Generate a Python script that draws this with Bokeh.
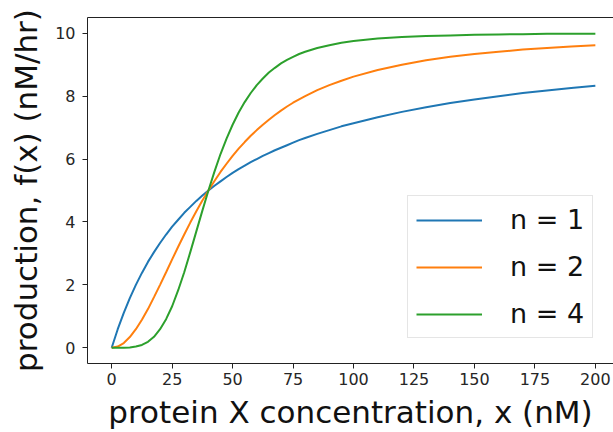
from bokeh.plotting import figure
from bokeh.models import Range1d, FixedTicker, LinearAxis, Legend, LegendItem
from bokeh.embed import file_html
from bokeh.resources import INLINE

# protein X concentration (nM)
x_vals = [0, 2.5, 5, 7.5, 10, 12.5, 15, 17.5, 20, 22.5, 25, 27.5, 30, 32.5, 35, 37.5, 40,
          42.5, 45, 47.5, 50, 52.5, 55, 57.5, 60, 62.5, 65, 67.5, 70, 72.5, 75, 77.5, 80,
          85, 90, 95, 100, 110, 120, 130, 140, 150, 160, 170, 180, 190, 200]
# production f(x) (nM/hr)
f_n1 = [0.0, 0.59, 1.11, 1.58, 2.0, 2.38, 2.73, 3.04, 3.33, 3.6, 3.85, 4.07, 4.29, 4.48, 4.67,
        4.84, 5.0, 5.15, 5.29, 5.43, 5.56, 5.68, 5.79, 5.9, 6.0, 6.1, 6.19, 6.28, 6.36, 6.44,
        6.52, 6.6, 6.67, 6.8, 6.92, 7.04, 7.14, 7.33, 7.5, 7.65, 7.78, 7.89, 8.0, 8.1, 8.18,
        8.26, 8.33]
f_n2 = [0.0, 0.04, 0.15, 0.34, 0.59, 0.89, 1.23, 1.61, 2.0, 2.4, 2.81, 3.21, 3.6, 3.98, 4.34,
        4.68, 5.0, 5.3, 5.59, 5.85, 6.1, 6.33, 6.54, 6.74, 6.92, 7.09, 7.25, 7.4, 7.54, 7.67,
        7.79, 7.9, 8.0, 8.19, 8.35, 8.49, 8.62, 8.83, 9.0, 9.14, 9.25, 9.34, 9.41, 9.48, 9.53,
        9.58, 9.62]
f_n4 = [0.0, 0.0, 0.0, 0.01, 0.04, 0.09, 0.19, 0.35, 0.59, 0.91, 1.32, 1.83, 2.4, 3.04, 3.7,
        4.36, 5.0, 5.6, 6.16, 6.65, 7.09, 7.48, 7.81, 8.1, 8.35, 8.56, 8.75, 8.9, 9.04, 9.15,
        9.25, 9.34, 9.41, 9.53, 9.62, 9.7, 9.75, 9.83, 9.88, 9.91, 9.93, 9.95, 9.96, 9.97,
        9.98, 9.98, 9.98]
labels = ["n = 1", "n = 2", "n = 4"]
colors = ["#1f77b4", "#ff7f0e", "#2ca02c"]
x_ticks = [0, 25, 50, 75, 100, 125, 150, 175, 200]
y_ticks = [0, 2, 4, 6, 8, 10]

p = figure(width=613, height=432, output_backend="svg", toolbar_location=None,
           x_range=Range1d(-10, 207.5), y_range=Range1d(-0.5, 10.5),
           min_border_left=87, min_border_right=0, min_border_top=17, min_border_bottom=68)
p.grid.visible = False
p.outline_line_color = None
p.background_fill_color = "white"
p.border_fill_color = "white"

renderers = []
for ys, c in zip([f_n1, f_n2, f_n4], colors):
    r = p.line(x_vals, ys, line_color=c, line_width=2)
    renderers.append(r)

for ax, ticks in ((p.xaxis[0], x_ticks), (p.yaxis[0], y_ticks)):
    ax.ticker = FixedTicker(ticks=ticks)
    ax.minor_tick_line_color = None
    ax.major_tick_in = 0
    ax.major_tick_out = 5
    ax.major_tick_line_color = "#222222"
    ax.axis_line_color = "#222222"
    ax.major_label_text_font = "DejaVu Sans"
    ax.major_label_text_font_size = "16px"
    ax.major_label_text_color = "#262626"
    ax.axis_label_text_font = "DejaVu Sans"
    ax.axis_label_text_font_size = "31px"
    ax.axis_label_text_font_style = "normal"
    ax.axis_label_text_color = "#111111"

p.xaxis[0].axis_label = "protein X concentration, x (nM)"
p.yaxis[0].axis_label = "production, f(x) (nM/hr)"
p.xaxis[0].major_label_standoff = 4
p.yaxis[0].major_label_standoff = 7
p.xaxis[0].axis_label_standoff = 6
p.yaxis[0].axis_label_standoff = 8

top = LinearAxis(ticker=FixedTicker(ticks=[]), major_label_text_font_size="0px",
                 major_tick_out=0, major_tick_in=0, minor_tick_out=0, minor_tick_in=0,
                 axis_line_color="#222222", major_label_standoff=0)
p.add_layout(top, "above")

legend = Legend(items=[LegendItem(label=l, renderers=[r]) for l, r in zip(labels, renderers)],
                location=(320, 25), glyph_width=66, glyph_height=30, label_height=30,
                label_standoff=28, spacing=16, padding=8, margin=0,
                label_text_font="DejaVu Sans", label_text_font_size="27px",
                label_text_color="#111111",
                border_line_color="#cccccc", border_line_width=1,
                background_fill_color="white", background_fill_alpha=0.8)
p.add_layout(legend)

open("out.html", "w").write(file_html(p, INLINE))
